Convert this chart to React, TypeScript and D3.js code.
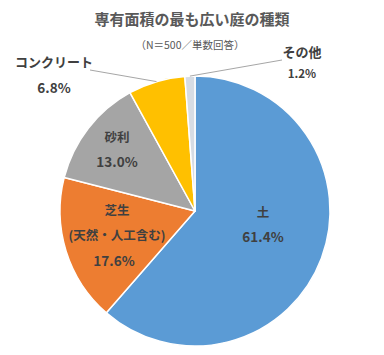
import React from "react";
import * as d3 from "d3";

const categories = ["土", "芝生", "砂利", "コンクリート", "その他"];
const values = [61.4, 17.6, 13.0, 6.8, 1.2];
const colors = ["#5B9BD5", "#ED7D31", "#A5A5A5", "#FFC000", "#D6DCE4"];
const subLabels = ["", "(天然・人工含む)", "", "", ""];

const W = 384;
const H = 355;
const cx = 195;
const cy = 211;
const R = 135;

// label anchor positions (centre of the category line) relative to the pie centre
const labelPos: [number, number][] = [
  [68, 1],
  [-78, -1],
  [-78, -74],
  [-141, -149],
  [107, -159],
];
const lineGap = [25, 25.5, 25, 26, 21];
const leaderEnd: [number, number][] = [
  [0, 0],
  [0, 0],
  [0, 0],
  [36, 8],
  [-20, 8],
];

export default function App() {
  const pie = d3
    .pie<number>()
    .sort(null)
    .value((d) => d)
    .startAngle(0)
    .endAngle(2 * Math.PI);
  const arcs = pie(values);
  const arc = d3.arc<d3.PieArcDatum<number>>().innerRadius(0).outerRadius(R);
  const fmt = d3.format(".1f");
  const font = "'Noto Sans CJK JP', 'Noto Sans', sans-serif";
  const textColor = "#404040";

  return (
    <svg
      width={W}
      height={H}
      style={{ position: "absolute", left: 0, top: 0, background: "#fff" }}
      fontFamily={font}
    >
      <text
        x={192}
        y={25}
        textAnchor="middle"
        fontSize={15}
        fontWeight="bold"
        fill="#595959"
      >
        専有面積の最も広い庭の種類
      </text>
      <text x={190} y={49} textAnchor="middle" fontSize={10.5} fill="#595959">
        （N＝500／単数回答）
      </text>
      <g transform={`translate(${cx},${cy})`}>
        {arcs.map((a, i) => (
          <path
            key={i}
            d={arc(a) || ""}
            fill={colors[i]}
            stroke="#fff"
            strokeWidth={1.5}
            strokeLinejoin="round"
          />
        ))}
        {arcs.map((a, i) => {
          if (i < 3) return null;
          const mid = (a.startAngle + a.endAngle) / 2;
          const x0 = Math.sin(mid) * R;
          const y0 = -Math.cos(mid) * R;
          const [lx, ly] = labelPos[i];
          const [dx, dy] = leaderEnd[i];
          return (
            <line
              key={"l" + i}
              x1={x0}
              y1={y0}
              x2={lx + dx}
              y2={ly + dy}
              stroke="#A6A6A6"
              strokeWidth={1}
            />
          );
        })}
        {arcs.map((a, i) => {
          const [lx, ly] = labelPos[i];
          const hasSub = subLabels[i] !== "";
          const g = lineGap[i];
          const outside = i >= 3;
          return (
            <g key={"t" + i} fill={textColor} fontWeight="bold" textAnchor="middle">
              <text x={lx} y={ly + 4.5} fontSize={outside ? 13 : 12.5}>
                {categories[i]}
              </text>
              {hasSub && (
                <text x={lx} y={ly + g + 4.5} fontSize={12.5}>
                  {subLabels[i]}
                </text>
              )}
              <text
                x={i === 1 ? lx - 3 : lx}
                y={ly + (hasSub ? 2 * g : g) + 4.5}
                fontSize={i === 4 ? 11.5 : 13.5}
              >
                {fmt(values[i])}%
              </text>
            </g>
          );
        })}
      </g>
    </svg>
  );
}
